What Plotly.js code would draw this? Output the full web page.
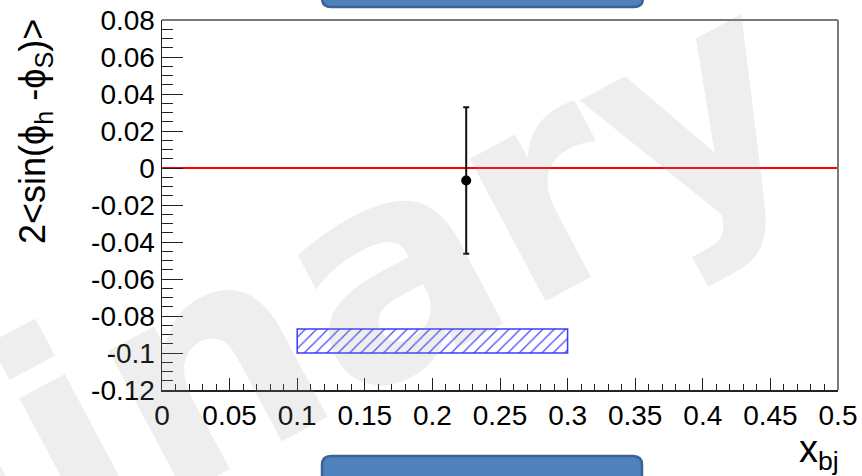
<!DOCTYPE html>
<html>
<head>
<meta charset="utf-8">
<script src="https://cdn.plot.ly/plotly-3.0.1.min.js"></script>
<style>html,body{margin:0;padding:0;background:#fff;}#chart{width:862px;height:476px;}</style>
</head>
<body>
<div id="chart"></div>
<script>
// ---- data ----
const pointX = [0.225];
const pointY = [-0.0068];
const pointErr = [0.0396];
const sysBandX = [0.1, 0.3];
const sysBandY = [-0.1, -0.087];
const refLineY = [0];
const xTickVals = [0, 0.05, 0.1, 0.15, 0.2, 0.25, 0.3, 0.35, 0.4, 0.45, 0.5];
const xTickText = ["0", "0.05", "0.1", "0.15", "0.2", "0.25", "0.3", "0.35", "0.4", "0.45", "0.5"];
const yTickVals = [0.08, 0.06, 0.04, 0.02, 0, -0.02, -0.04, -0.06, -0.08, -0.1, -0.12];
const yTickText = ["0.08", "0.06", "0.04", "0.02", "0", "-0.02", "-0.04", "-0.06", "-0.08", "-0.1", "-0.12"];
const xRange = [0, 0.5];
const yRange = [-0.12, 0.08];
const yTitle = "2<sin(ϕ<sub>h</sub> -ϕ<sub>S</sub>)>";
const xTitle = "x<sub>bj</sub>";
const watermark = "<b>Preliminary</b>";

// ---- geometry helpers (pixel -> paper) ----
const M = {l: 162, r: 24, t: 20, b: 86};
const W = 862, H = 476;
const PW = W - M.l - M.r, PH = H - M.t - M.b;
const px = v => (v - M.l) / PW;
const py = v => (H - M.b - v) / PH;
function roundRect(x0, y0, x1, y1, r) {
  const p = (x, y) => px(x).toFixed(5) + "," + py(y).toFixed(5);
  return "M" + p(x0 + r, y0) + " L" + p(x1 - r, y0) + " Q" + p(x1, y0) + " " + p(x1, y0 + r) +
    " L" + p(x1, y1 - r) + " Q" + p(x1, y1) + " " + p(x1 - r, y1) +
    " L" + p(x0 + r, y1) + " Q" + p(x0, y1) + " " + p(x0, y1 - r) +
    " L" + p(x0, y0 + r) + " Q" + p(x0, y0) + " " + p(x0 + r, y0) + " Z";
}

const font = "Liberation Sans, Arial, Helvetica, sans-serif";

const traces = [
  {
    type: "bar",
    x: [(sysBandX[0] + sysBandX[1]) / 2],
    width: [sysBandX[1] - sysBandX[0]],
    base: [sysBandY[0]],
    y: [sysBandY[1] - sysBandY[0]],
    marker: {
      color: "rgba(0,0,0,0)",
      line: {color: "rgba(50,50,255,0.95)", width: 1.5},
      pattern: {shape: "/", fgcolor: "rgba(50,50,255,0.9)", bgcolor: "rgba(0,0,0,0)", size: 8, solidity: 0.15}
    },
    hoverinfo: "skip",
    showlegend: false
  },
  {
    type: "scatter",
    mode: "markers",
    x: pointX,
    y: pointY,
    marker: {color: "#000", size: 10},
    error_y: {type: "data", array: pointErr, visible: true, color: "#111", thickness: 2, width: 3},
    hoverinfo: "skip",
    showlegend: false
  }
];

const layout = {
  width: W, height: H,
  margin: M,
  paper_bgcolor: "#fff",
  plot_bgcolor: "rgba(0,0,0,0)",
  font: {family: font, color: "#000"},
  barmode: "overlay",
  xaxis: {
    range: xRange, tickmode: "array", tickvals: xTickVals, ticktext: xTickText,
    ticks: "inside", ticklen: 12, tickwidth: 1, tickcolor: "#222",
    minor: {ticks: "inside", dtick: 0.01, tick0: 0, ticklen: 6, tickwidth: 1, tickcolor: "#222"},
    showline: true, linecolor: "#222", linewidth: 1.5,
    showgrid: false, zeroline: false,
    tickfont: {size: 28, family: font, color: "#000"}
  },
  yaxis: {
    range: yRange, tickmode: "array", tickvals: yTickVals, ticktext: yTickText,
    ticks: "inside", ticklen: 21, tickwidth: 1, tickcolor: "#222",
    minor: {ticks: "inside", dtick: 0.005, tick0: 0, ticklen: 11, tickwidth: 1, tickcolor: "#222"},
    showline: true, linecolor: "#222", linewidth: 1.5,
    showgrid: false, zeroline: false,
    tickfont: {size: 28, family: font, color: "#000"}
  },
  shapes: [
    {type: "line", xref: "paper", yref: "y", x0: 0, x1: 1, y0: refLineY[0], y1: refLineY[0],
     line: {color: "#ff0000", width: 2}, layer: "below"},
    {type: "line", xref: "paper", yref: "paper", x0: 0, x1: 1, y0: 1, y1: 1,
     line: {color: "#7a7a7a", width: 2}},
    {type: "line", xref: "paper", yref: "paper", x0: 1, x1: 1, y0: 0, y1: 1,
     line: {color: "#7a7a7a", width: 2}},
    {type: "path", xref: "paper", yref: "paper", path: roundRect(322, -20, 643, 7, 9),
     fillcolor: "#4f81bd", line: {color: "#3a6292", width: 2.5}, layer: "above"},
    {type: "path", xref: "paper", yref: "paper", path: roundRect(322, 456, 642, 500, 9),
     fillcolor: "#4f81bd", line: {color: "#3a6292", width: 2.5}, layer: "above"}
  ],
  annotations: [
    {text: yTitle, xref: "paper", yref: "paper", x: px(35), y: py(132),
     xanchor: "center", yanchor: "middle", textangle: -90, showarrow: false,
     font: {size: 36, family: font, color: "#000"}},
    {text: xTitle, xref: "paper", yref: "paper", x: px(841), y: py(452),
     xanchor: "right", yanchor: "middle", showarrow: false,
     font: {size: 38, family: font, color: "#000"}},
    {text: watermark, xref: "paper", yref: "paper", x: px(-74), y: py(515),
     xanchor: "center", yanchor: "middle", textangle: -28, showarrow: false,
     font: {size: 295, family: "DejaVu Sans, sans-serif", color: "rgba(150,150,150,0.16)"}}
  ]
};

Plotly.newPlot("chart", traces, layout, {staticPlot: true, displayModeBar: false});
</script>
</body>
</html>
